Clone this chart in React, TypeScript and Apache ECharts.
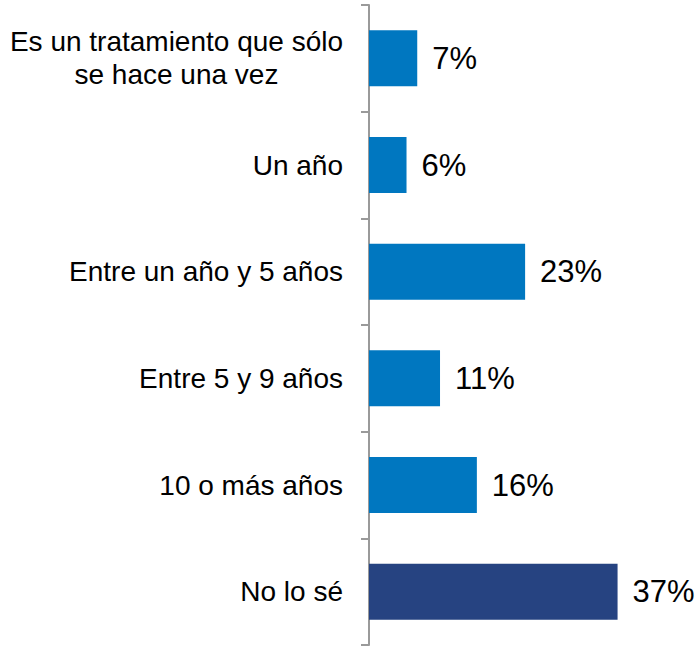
import React, { useEffect, useRef } from "react";
import * as echarts from "echarts";

const categories = [
  "Es un tratamiento que sólo\nse hace una vez",
  "Un año",
  "Entre un año y 5 años",
  "Entre 5 y 9 años",
  "10 o más años",
  "No lo sé",
];
const values = [7.2, 5.6, 23.3, 10.6, 16.1, 37.1];
const barColors = ["#0077C0", "#0077C0", "#0077C0", "#0077C0", "#0077C0", "#264381"];

export default function App() {
  const ref = useRef<HTMLDivElement>(null);
  useEffect(() => {
    if (!ref.current) return;
    const chart = echarts.init(ref.current, null, { renderer: "svg" });
    chart.setOption({
      animation: false,
      grid: { left: 369, right: 62, top: 5, bottom: 1, containLabel: false },
      xAxis: { type: "value", min: 0, max: 40, show: false },
      yAxis: {
        type: "category",
        data: categories,
        inverse: true,
        axisLine: { show: true, lineStyle: { color: "#9A9A9A", width: 2 } },
        axisTick: { show: true, length: 8, lineStyle: { color: "#9A9A9A", width: 2 } },
        axisLabel: {
          margin: 26,
          color: "#000",
          fontFamily: "Liberation Sans, Arial, sans-serif",
          fontSize: 28,
          lineHeight: 33,
          formatter: (v: string) =>
            v
              .split("\n")
              .map((l) => `{c|${l}}`)
              .join("\n"),
          rich: {
            c: {
              align: "center",
              fontSize: 28,
              lineHeight: 33,
              color: "#000",
              fontFamily: "Liberation Sans, Arial, sans-serif",
            },
          },
        },
      },
      series: [
        {
          type: "bar",
          data: values.map((v, i) => ({ value: v, itemStyle: { color: barColors[i] } })),
          barWidth: 56,
          label: {
            show: true,
            position: "right",
            distance: 15,
            formatter: (p: any) => `${Math.round(p.value)}%`,
            color: "#000",
            fontSize: 31,
            fontFamily: "Liberation Sans, Arial, sans-serif",
          },
        },
      ],
    });
    return () => chart.dispose();
  }, []);
  return (
    <div
      ref={ref}
      style={{ position: "absolute", left: 0, top: 0, width: 699, height: 646, background: "#fff" }}
    />
  );
}
